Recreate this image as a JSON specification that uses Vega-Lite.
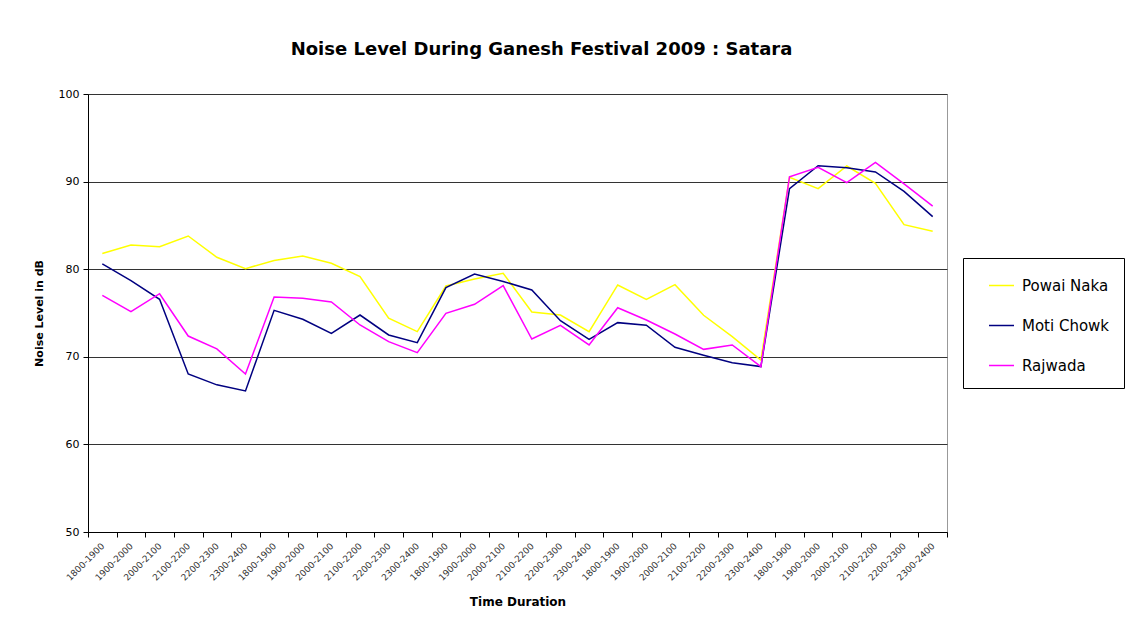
{
  "$schema": "https://vega.github.io/schema/vega-lite/v6.json",
  "autosize": {"type": "none"},
  "width": 859,
  "height": 438,
  "padding": {"left": 88, "top": 94, "right": 201, "bottom": 97},
  "background": "white",
  "title": {
    "text": "Noise Level During Ganesh Festival 2009 : Satara",
    "font": "DejaVu Sans",
    "fontSize": 18,
    "fontWeight": "bold",
    "color": "black",
    "anchor": "middle",
    "dx": 24,
    "offset": 29
  },
  "config": {
    "view": {"stroke": "#999999", "strokeWidth": 1},
    "font": "DejaVu Sans"
  },
  "data": {
    "values": [
      {"k": "1:1800-1900", "s": "Powai Naka", "v": 81.8},
      {"k": "2:1900-2000", "s": "Powai Naka", "v": 82.76},
      {"k": "3:2000-2100", "s": "Powai Naka", "v": 82.57},
      {"k": "4:2100-2200", "s": "Powai Naka", "v": 83.79},
      {"k": "5:2200-2300", "s": "Powai Naka", "v": 81.36},
      {"k": "6:2300-2400", "s": "Powai Naka", "v": 80.06},
      {"k": "7:1800-1900", "s": "Powai Naka", "v": 81.0},
      {"k": "8:1900-2000", "s": "Powai Naka", "v": 81.5},
      {"k": "9:2000-2100", "s": "Powai Naka", "v": 80.67},
      {"k": "10:2100-2200", "s": "Powai Naka", "v": 79.15},
      {"k": "11:2200-2300", "s": "Powai Naka", "v": 74.4},
      {"k": "12:2300-2400", "s": "Powai Naka", "v": 72.87},
      {"k": "13:1800-1900", "s": "Powai Naka", "v": 78.08},
      {"k": "14:1900-2000", "s": "Powai Naka", "v": 78.88},
      {"k": "15:2000-2100", "s": "Powai Naka", "v": 79.53},
      {"k": "16:2100-2200", "s": "Powai Naka", "v": 75.11},
      {"k": "17:2200-2300", "s": "Powai Naka", "v": 74.77},
      {"k": "18:2300-2400", "s": "Powai Naka", "v": 72.87},
      {"k": "19:1800-1900", "s": "Powai Naka", "v": 78.2},
      {"k": "20:1900-2000", "s": "Powai Naka", "v": 76.56},
      {"k": "21:2000-2100", "s": "Powai Naka", "v": 78.23},
      {"k": "22:2100-2200", "s": "Powai Naka", "v": 74.74},
      {"k": "23:2200-2300", "s": "Powai Naka", "v": 72.3},
      {"k": "24:2300-2400", "s": "Powai Naka", "v": 69.63},
      {"k": "25:1800-1900", "s": "Powai Naka", "v": 90.49},
      {"k": "26:1900-2000", "s": "Powai Naka", "v": 89.19},
      {"k": "27:2000-2100", "s": "Powai Naka", "v": 91.78},
      {"k": "28:2100-2200", "s": "Powai Naka", "v": 89.8},
      {"k": "29:2200-2300", "s": "Powai Naka", "v": 85.08},
      {"k": "30:2300-2400", "s": "Powai Naka", "v": 84.33},
      {"k": "1:1800-1900", "s": "Moti Chowk", "v": 80.6},
      {"k": "2:1900-2000", "s": "Moti Chowk", "v": 78.7},
      {"k": "3:2000-2100", "s": "Moti Chowk", "v": 76.56},
      {"k": "4:2100-2200", "s": "Moti Chowk", "v": 68.04},
      {"k": "5:2200-2300", "s": "Moti Chowk", "v": 66.8},
      {"k": "6:2300-2400", "s": "Moti Chowk", "v": 66.1},
      {"k": "7:1800-1900", "s": "Moti Chowk", "v": 75.3},
      {"k": "8:1900-2000", "s": "Moti Chowk", "v": 74.28},
      {"k": "9:2000-2100", "s": "Moti Chowk", "v": 72.68},
      {"k": "10:2100-2200", "s": "Moti Chowk", "v": 74.77},
      {"k": "11:2200-2300", "s": "Moti Chowk", "v": 72.49},
      {"k": "12:2300-2400", "s": "Moti Chowk", "v": 71.61},
      {"k": "13:1800-1900", "s": "Moti Chowk", "v": 77.9},
      {"k": "14:1900-2000", "s": "Moti Chowk", "v": 79.45},
      {"k": "15:2000-2100", "s": "Moti Chowk", "v": 78.6},
      {"k": "16:2100-2200", "s": "Moti Chowk", "v": 77.63},
      {"k": "17:2200-2300", "s": "Moti Chowk", "v": 74.12},
      {"k": "18:2300-2400", "s": "Moti Chowk", "v": 72.0},
      {"k": "19:1800-1900", "s": "Moti Chowk", "v": 73.9},
      {"k": "20:1900-2000", "s": "Moti Chowk", "v": 73.6},
      {"k": "21:2000-2100", "s": "Moti Chowk", "v": 71.08},
      {"k": "22:2100-2200", "s": "Moti Chowk", "v": 70.17},
      {"k": "23:2200-2300", "s": "Moti Chowk", "v": 69.33},
      {"k": "24:2300-2400", "s": "Moti Chowk", "v": 68.88},
      {"k": "25:1800-1900", "s": "Moti Chowk", "v": 89.19},
      {"k": "26:1900-2000", "s": "Moti Chowk", "v": 91.82},
      {"k": "27:2000-2100", "s": "Moti Chowk", "v": 91.59},
      {"k": "28:2100-2200", "s": "Moti Chowk", "v": 91.1},
      {"k": "29:2200-2300", "s": "Moti Chowk", "v": 88.89},
      {"k": "30:2300-2400", "s": "Moti Chowk", "v": 86.0},
      {"k": "1:1800-1900", "s": "Rajwada", "v": 77.02},
      {"k": "2:1900-2000", "s": "Rajwada", "v": 75.15},
      {"k": "3:2000-2100", "s": "Rajwada", "v": 77.2},
      {"k": "4:2100-2200", "s": "Rajwada", "v": 72.37},
      {"k": "5:2200-2300", "s": "Rajwada", "v": 70.9},
      {"k": "6:2300-2400", "s": "Rajwada", "v": 68.04},
      {"k": "7:1800-1900", "s": "Rajwada", "v": 76.83},
      {"k": "8:1900-2000", "s": "Rajwada", "v": 76.68},
      {"k": "9:2000-2100", "s": "Rajwada", "v": 76.26},
      {"k": "10:2100-2200", "s": "Rajwada", "v": 73.63},
      {"k": "11:2200-2300", "s": "Rajwada", "v": 71.73},
      {"k": "12:2300-2400", "s": "Rajwada", "v": 70.47},
      {"k": "13:1800-1900", "s": "Rajwada", "v": 74.96},
      {"k": "14:1900-2000", "s": "Rajwada", "v": 75.99},
      {"k": "15:2000-2100", "s": "Rajwada", "v": 78.12},
      {"k": "16:2100-2200", "s": "Rajwada", "v": 72.03},
      {"k": "17:2200-2300", "s": "Rajwada", "v": 73.6},
      {"k": "18:2300-2400", "s": "Rajwada", "v": 71.35},
      {"k": "19:1800-1900", "s": "Rajwada", "v": 75.6},
      {"k": "20:1900-2000", "s": "Rajwada", "v": 74.2},
      {"k": "21:2000-2100", "s": "Rajwada", "v": 72.6},
      {"k": "22:2100-2200", "s": "Rajwada", "v": 70.85},
      {"k": "23:2200-2300", "s": "Rajwada", "v": 71.35},
      {"k": "24:2300-2400", "s": "Rajwada", "v": 68.88},
      {"k": "25:1800-1900", "s": "Rajwada", "v": 90.56},
      {"k": "26:1900-2000", "s": "Rajwada", "v": 91.63},
      {"k": "27:2000-2100", "s": "Rajwada", "v": 89.88},
      {"k": "28:2100-2200", "s": "Rajwada", "v": 92.2},
      {"k": "29:2200-2300", "s": "Rajwada", "v": 89.73},
      {"k": "30:2300-2400", "s": "Rajwada", "v": 87.21}
    ]
  },
  "mark": {"type": "line", "strokeWidth": 1.5},
  "encoding": {
    "x": {
      "field": "k",
      "type": "ordinal",
      "sort": null,
      "bandPosition": 0.5,
      "scale": {"type": "band", "paddingInner": 0, "paddingOuter": 0},
      "axis": {
        "title": "Time Duration",
        "titleFont": "DejaVu Sans",
        "titleFontSize": 12,
        "titleFontWeight": "bold",
        "titleColor": "black",
        "titlePadding": 14,
        "labelExpr": "split(datum.value, ':')[1]",
        "labelAngle": -45,
        "labelAlign": "right",
        "labelBaseline": "middle",
        "labelFontSize": 9,
        "labelColor": "#333333",
        "labelPadding": 7,
        "tickBand": "extent",
        "tickColor": "black",
        "tickSize": 5,
        "domainColor": "black",
        "grid": false
      }
    },
    "y": {
      "field": "v",
      "type": "quantitative",
      "scale": {"domain": [50, 100], "nice": false, "zero": false},
      "axis": {
        "title": "Noise Level in dB",
        "titleFont": "DejaVu Sans",
        "titleFontSize": 11,
        "titleFontWeight": "bold",
        "titleColor": "black",
        "titlePadding": 14,
        "values": [50, 60, 70, 80, 90, 100],
        "labelFontSize": 11,
        "labelColor": "black",
        "labelPadding": 4,
        "tickColor": "black",
        "tickSize": 5,
        "domainColor": "black",
        "grid": true,
        "gridColor": "#333333",
        "gridWidth": 1
      }
    },
    "color": {
      "field": "s",
      "type": "nominal",
      "sort": ["Powai Naka", "Moti Chowk", "Rajwada"],
      "scale": {"domain": ["Powai Naka", "Moti Chowk", "Rajwada"], "range": ["#FFFF00", "#000080", "#FF00FF"]},
      "legend": {
        "title": null,
        "orient": "none",
        "legendX": 875,
        "legendY": 164,
        "strokeColor": "black",
        "fillColor": "white",
        "padding": 14,
        "symbolType": "stroke",
        "symbolSize": 625,
        "symbolOffset": 11,
        "symbolStrokeWidth": 1.5,
        "labelFontSize": 15,
        "labelColor": "black",
        "labelOffset": 7,
        "rowPadding": 18
      }
    }
  }
}
